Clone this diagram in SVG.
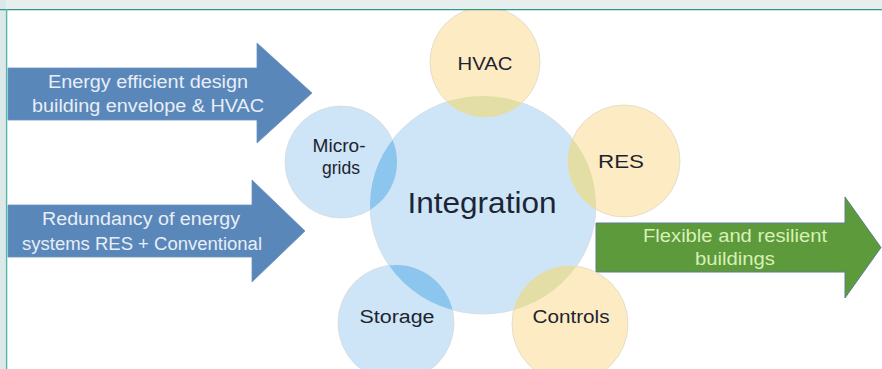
<svg xmlns="http://www.w3.org/2000/svg" width="882" height="369" viewBox="0 0 882 369">
  <defs>
    <style>
      .blue { fill: #cde5f6; stroke: #d6dbe0; stroke-width: 0.8; }
      .yellow { fill: #fdecc3; stroke: #ddd8cc; stroke-width: 0.8; }
      .lens-blue { fill: #8cc6ee; }
      .lens-yellow { fill: #e2dea6; }
      .lbl { font-family: "Liberation Sans", Arial, sans-serif; text-anchor: middle; }
      .node-lbl { font-size: 18px; fill: #1e2330; }
      .arrow-blue { fill: #5a87ba; stroke: #6a92c2; stroke-width: 0.8; }
      .arrow-green { fill: #5c9a3b; stroke: #5d7f8e; stroke-width: 1; }
      .txt-blue { font-size: 18px; fill: #e8eef6; }
      .txt-green { font-size: 18px; fill: #d9f0b6; }
    </style>
    <clipPath id="hub-clip">
      <ellipse cx="483" cy="205" rx="113" ry="109"/>
    </clipPath>
  </defs>

  <!-- page background and frame -->
  <rect x="0" y="0" width="882" height="369" fill="#ffffff"/>

  <!-- block arrows -->
  <g id="arrows">
    <polygon class="arrow-blue" points="8,68 257,68 257,43 312,93 257,143 257,120 8,120"/>
    <polygon class="arrow-blue" points="8,205 252,205 252,180 305,231 252,282 252,257 8,257"/>
    <polygon class="arrow-green" points="596,223 845,223 845,197 881,247.5 845,298 845,272 596,272"/>
  </g>

  <g id="arrow-labels">
    <text class="lbl txt-blue" x="148" y="88" textLength="200" lengthAdjust="spacingAndGlyphs">Energy efficient design</text>
    <text class="lbl txt-blue" x="148" y="112" textLength="232" lengthAdjust="spacingAndGlyphs">building envelope &amp; HVAC</text>
    <text class="lbl txt-blue" x="141" y="225" textLength="198" lengthAdjust="spacingAndGlyphs">Redundancy of energy</text>
    <text class="lbl txt-blue" x="142" y="250" textLength="240" lengthAdjust="spacingAndGlyphs">systems RES + Conventional</text>
    <text class="lbl txt-green" x="735" y="242" textLength="184" lengthAdjust="spacingAndGlyphs">Flexible and resilient</text>
    <text class="lbl txt-green" x="735" y="265" textLength="80" lengthAdjust="spacingAndGlyphs">buildings</text>
  </g>

  <!-- central hub -->
  <g id="integration">
    <ellipse class="blue" cx="483" cy="205" rx="113" ry="109"/>
    <text class="lbl" x="482" y="213" font-size="30" fill="#1c2535" textLength="149" lengthAdjust="spacingAndGlyphs">Integration</text>
  </g>

  <!-- satellite circles, each with its overlap onto the hub -->
  <g id="hvac">
    <circle class="yellow" cx="485" cy="62" r="55"/>
    <circle class="lens-yellow" cx="485" cy="62" r="55" clip-path="url(#hub-clip)"/>
    <text class="lbl node-lbl" x="485" y="70" textLength="55" lengthAdjust="spacingAndGlyphs">HVAC</text>
  </g>

  <g id="res">
    <circle class="yellow" cx="624" cy="161" r="56"/>
    <circle class="lens-yellow" cx="624" cy="161" r="56" clip-path="url(#hub-clip)"/>
    <text class="lbl node-lbl" x="621" y="168" textLength="46" lengthAdjust="spacingAndGlyphs">RES</text>
  </g>

  <g id="micro-grids">
    <circle class="blue" cx="341" cy="162" r="56"/>
    <circle class="lens-blue" cx="341" cy="162" r="56" clip-path="url(#hub-clip)"/>
    <text class="lbl node-lbl" x="339" y="152" textLength="53" lengthAdjust="spacingAndGlyphs">Micro-</text>
    <text class="lbl node-lbl" x="341" y="174" textLength="38" lengthAdjust="spacingAndGlyphs">grids</text>
  </g>

  <g id="storage">
    <circle class="blue" cx="396" cy="323" r="58"/>
    <circle class="lens-blue" cx="396" cy="323" r="58" clip-path="url(#hub-clip)"/>
    <text class="lbl node-lbl" x="397" y="323" fill="#1d2c42" textLength="75" lengthAdjust="spacingAndGlyphs">Storage</text>
  </g>

  <g id="controls">
    <circle class="yellow" cx="570" cy="324" r="58"/>
    <circle class="lens-yellow" cx="570" cy="324" r="58" clip-path="url(#hub-clip)"/>
    <text class="lbl node-lbl" x="571" y="323" textLength="77" lengthAdjust="spacingAndGlyphs">Controls</text>
  </g>

  <!-- page frame drawn last so it sits over the artwork -->
  <g id="frame">
    <rect x="0" y="0" width="882" height="9" fill="#e6eeee"/>
    <rect x="0" y="0" width="6" height="369" fill="#dde9e9"/>
    <line x1="0" y1="9.6" x2="882" y2="9.6" stroke="#36958a" stroke-width="1.4"/>
    <line x1="6.6" y1="9" x2="6.6" y2="369" stroke="#52b8ad" stroke-width="1.4"/>
  </g>
</svg>
